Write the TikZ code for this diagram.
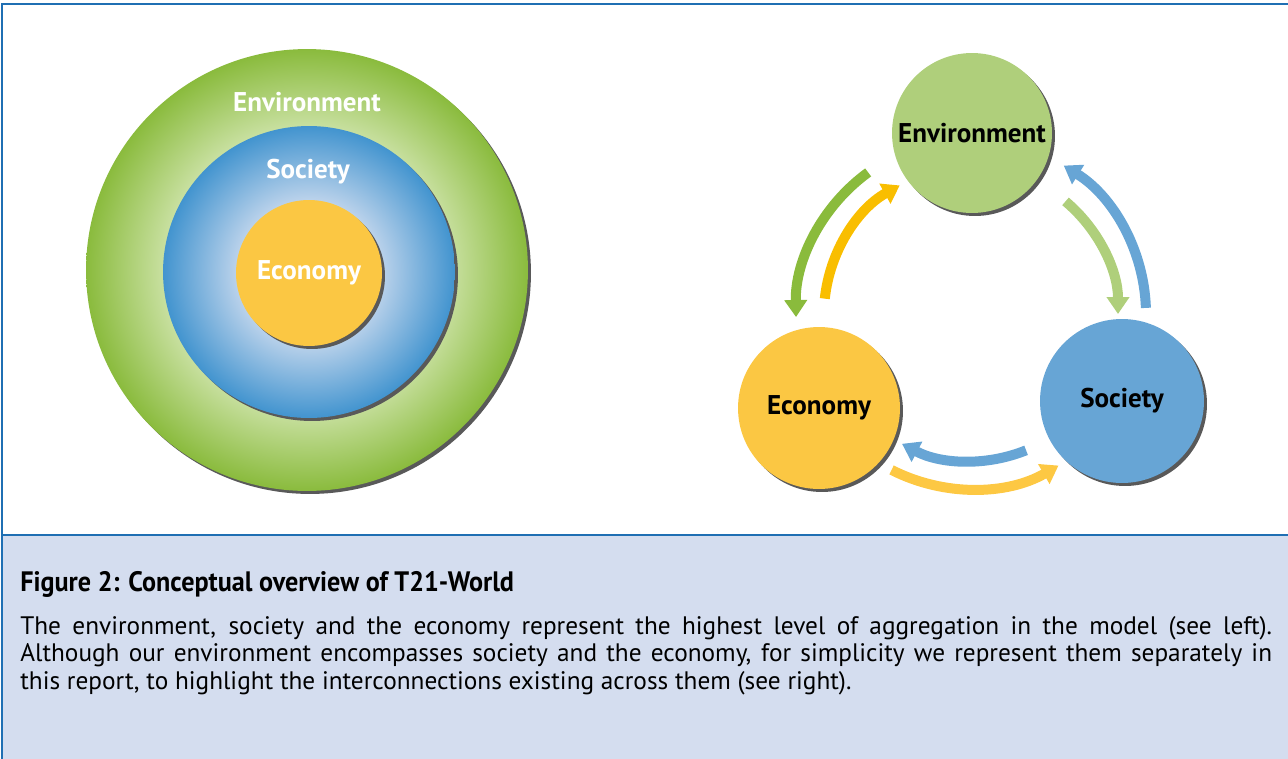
\documentclass[tikz,border=0pt]{standalone}
\usepackage{fontspec}
\setmainfont{PT Sans}
\newfontfamily\condfont[FakeStretch=0.93]{PT Sans}
\usepackage{tikz}
\usetikzlibrary{arrows.meta, calc, shadows}
\definecolor{myframe}{RGB}{31,111,179}
\definecolor{capfill}{RGB}{212,221,239}
\definecolor{envdark}{RGB}{138,187,61}
\definecolor{envlight}{RGB}{202,225,163}
\definecolor{socdark}{RGB}{66,148,207}
\definecolor{soclight}{RGB}{200,217,238}
\definecolor{ecoyellow}{RGB}{251,199,67}
\definecolor{envflat}{RGB}{175,207,123}
\definecolor{socflat}{RGB}{103,165,213}
\definecolor{arrgreen}{RGB}{138,187,60}
\definecolor{arryellow}{RGB}{249,190,0}
\definecolor{arrgold}{RGB}{253,200,67}
\pgfdeclareradialshading{envshade}{\pgfpoint{0bp}{0bp}}{color(0bp)=(envlight); color(16bp)=(envlight); color(25bp)=(envdark); color(50bp)=(envdark)}
\pgfdeclareradialshading{socshade}{\pgfpoint{0bp}{0bp}}{color(0bp)=(soclight); color(11bp)=(soclight); color(25bp)=(socdark); color(50bp)=(socdark)}
\tikzset{
  ring/.style={circle, inner sep=0pt,
    drop shadow={shadow xshift=0.06cm, shadow yshift=-0.06cm, fill=black!65, opacity=1}},
  flatcircle/.style={ring, font=\fontsize{15.4}{18}\selectfont\bfseries},
  ringlabel/.style={text=white, font=\fontsize{15.4}{18}\selectfont\bfseries},
  flowarrow/.style={line width=0.2cm, -{Triangle[width=0.44cm, length=0.34cm]}},
  frameline/.style={draw=myframe, line width=0.045cm}
}
\begin{document}
\begin{tikzpicture}[x=0.02cm, y=0.02cm]
  \useasboundingbox (0,0) rectangle (1288,-758);

  % ── Frame and caption panel ───────────────────────────────────────
  \fill[capfill] (2,-535) rectangle (1300,-770);
  \draw[frameline] (2,-4) rectangle (1300,-770);
  \draw[frameline] (2,-535) -- (1300,-535);

  % ── Nested circles (left) ─────────────────────────────────────────
  \node[ring, minimum size=8.84cm, shade, shading=envshade] (envring) at (307,-270) {};
  \node[ring, minimum size=5.84cm, shade, shading=socshade] (socring) at (309,-272) {};
  \node[ring, minimum size=2.92cm, fill=ecoyellow, ringlabel] (ecoring) at (309,-273) {Economy};
  \node[ringlabel] (envlabel) at (307,-102) {Environment};
  \node[ringlabel] (soclabel) at (308,-172) {Society};

  % ── Three pillars (right) ─────────────────────────────────────────
  \node[flatcircle, minimum size=3.2cm,  fill=envflat]   (env) at (972,-133) {Environment};
  \node[flatcircle, minimum size=3.24cm, fill=ecoyellow] (eco) at (819,-408) {Economy};
  \node[flatcircle, minimum size=3.28cm, fill=socflat]   (soc) at (1122,-401) {Society};
  \coordinate (hub) at (971,-314);

  % Environment <-> Economy
  \draw[flowarrow, arrgreen]  ($(hub)+(126:175)$) arc[start angle=126, end angle=181, radius=175];
  \draw[flowarrow, arryellow] ($(hub)+(174:147)$) arc[start angle=174, end angle=119, radius=147];
  % Environment <-> Society
  \draw[flowarrow, socflat]   ($(hub)+(2:175)$)   arc[start angle=2, end angle=58, radius=175];
  \draw[flowarrow, envflat]   ($(hub)+(50:147)$)  arc[start angle=50, end angle=0, radius=147];
  % Economy <-> Society
  \draw[flowarrow, arrgold]   ($(hub)+(243:175)$) arc[start angle=243, end angle=300, radius=175];
  \draw[flowarrow, socflat]   ($(hub)+(292:147)$) arc[start angle=292, end angle=242, radius=147];

  % ── Caption ───────────────────────────────────────────────────────
  \node[anchor=west, inner sep=0pt, font=\condfont\fontsize{16}{18}\selectfont\bfseries] (captitle) at (20,-584)
    {Figure 2: Conceptual overview of T21-World};
  \node[anchor=north west, inner sep=0pt, text width=25.04cm, align=justify,
        font=\fontsize{14.4}{15.6}\selectfont] (captext) at (20,-616)
    {\baselineskip=15.4pt
     The environment, society and the economy represent the highest level of aggregation in the model (see left).\linebreak
     Although our environment encompasses society and the economy, for simplicity we represent them separately in\linebreak
     this report, to highlight the interconnections existing across them (see right).};
\end{tikzpicture}
\end{document}
